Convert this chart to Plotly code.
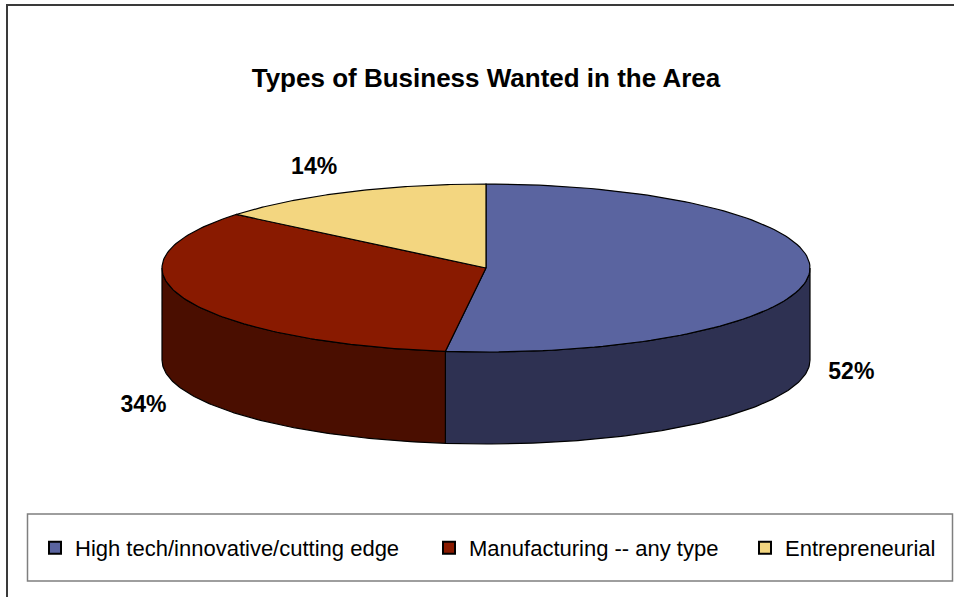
import numpy as np
import plotly.graph_objects as go

# Survey results
categories = ["High tech/innovative/cutting edge", "Manufacturing -- any type", "Entrepreneurial"]
shares = [52, 34, 14]
top_colors = ["#5A64A0", "#891A00", "#F3D680"]
side_colors = ["#2E3152", "#4A0E00", "#8A7440"]

title_text = "Types of Business Wanted in the Area"

W, H = 954, 597
# pie geometry in pixel space (y grows downward)
CX, CY = 486, 268
RX, RY = 324, 84
DEPTH = 92
FONT = "Liberation Sans, Arial, sans-serif"


def top_pt(theta_deg):
    t = np.radians(theta_deg)
    return CX + RX * np.sin(t), CY - RY * np.cos(t)


def arc(a, b, n=120):
    th = np.linspace(a, b, n)
    return top_pt(th)


fig = go.Figure()

total = float(sum(shares))
bounds = np.concatenate([[0.0], np.cumsum(shares) / total * 360.0])

# front side walls (visible between 90 and 270 degrees, clockwise from 12 o'clock)
for i in range(len(shares)):
    a, b = max(bounds[i], 90.0), min(bounds[i + 1], 270.0)
    if b <= a:
        continue
    xs, ys = arc(a, b)
    px = np.concatenate([xs, xs[::-1], xs[:1]])
    py = np.concatenate([ys, ys[::-1] + DEPTH, ys[:1]])
    fig.add_trace(go.Scatter(x=px, y=py, mode="lines", fill="toself",
                             fillcolor=side_colors[i],
                             line=dict(color="black", width=1.2),
                             hoverinfo="skip", showlegend=False))

# top faces
for i in range(len(shares)):
    xs, ys = arc(bounds[i], bounds[i + 1])
    px = np.concatenate([[CX], xs, [CX]])
    py = np.concatenate([[CY], ys, [CY]])
    fig.add_trace(go.Scatter(x=px, y=py, mode="lines", fill="toself",
                             fillcolor=top_colors[i],
                             line=dict(color="black", width=1.2),
                             hoverinfo="skip", showlegend=False))

# percentage labels just outside the rim of each slice
lx, ly, lt = [], [], []
for i, v in enumerate(shares):
    mid = (bounds[i] + bounds[i + 1]) / 2
    ex, ey = top_pt(mid)
    s, c = np.sin(np.radians(mid)), np.cos(np.radians(mid))
    if c < 0:
        ey += DEPTH + 6
    lx.append(ex + 42 * np.sign(s) * abs(s) ** 0.25)
    ly.append(ey - 26 * c)
    lt.append(f"{v}%")
fig.add_trace(go.Scatter(x=lx, y=ly, mode="text", text=lt,
                         textfont=dict(family=FONT, size=23, color="black", weight="bold"),
                         hoverinfo="skip", showlegend=False))

# legend entries, one legend box per entry so each sits at its own spot
legend_names = ["legend", "legend2", "legend3"]
legend_x = [35, 429, 745]
for i, name in enumerate(categories):
    fig.add_trace(go.Scatter(x=[None], y=[None], mode="markers", name=name,
                             legend=legend_names[i],
                             marker=dict(symbol="square", size=13, color=top_colors[i],
                                         line=dict(color="black", width=1))))

legend_style = dict(orientation="h", y=1 - 548 / H, xanchor="left", yanchor="middle",
                    bgcolor="rgba(0,0,0,0)", font=dict(family=FONT, size=22, color="black"),
                    itemsizing="constant")

fig.update_layout(
    width=W, height=H,
    margin=dict(l=0, r=0, t=0, b=0),
    paper_bgcolor="white", plot_bgcolor="white",
    xaxis=dict(range=[0, W], visible=False, fixedrange=True),
    yaxis=dict(range=[H, 0], visible=False, fixedrange=True),
    title=dict(text=title_text, x=486 / W, y=1 - 78 / H, xanchor="center", yanchor="middle",
               font=dict(family=FONT, size=26, color="black", weight="bold")),
    legend=dict(x=legend_x[0] / W, **legend_style),
    legend2=dict(x=legend_x[1] / W, **legend_style),
    legend3=dict(x=legend_x[2] / W, **legend_style),
    shapes=[
        # chart frame
        dict(type="rect", xref="x", yref="y", x0=7, y0=5, x1=W + 10, y1=H + 10,
             line=dict(color="#3a3a3a", width=2), fillcolor="rgba(0,0,0,0)", layer="below"),
        # legend box
        dict(type="rect", xref="x", yref="y", x0=27.5, y0=514, x1=952.5, y1=581,
             line=dict(color="#7f7f7f", width=1.5), fillcolor="rgba(0,0,0,0)", layer="below"),
    ],
)

fig.write_html("out.html")
